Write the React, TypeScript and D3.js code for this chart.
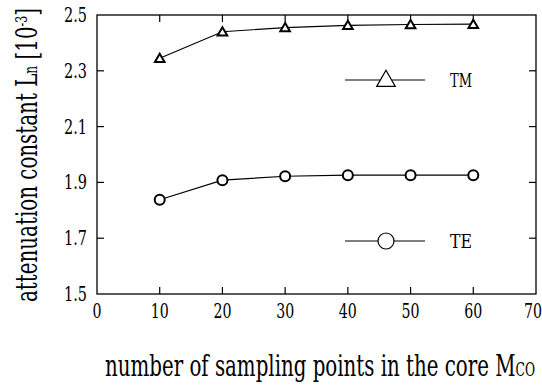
import {useEffect, useRef} from "react";
import * as d3 from "d3";

// sampling points in the core
const samplePoints = [10, 20, 30, 40, 50, 60];
// attenuation constant [10^-3]
const tmValues = [2.345, 2.44, 2.455, 2.463, 2.466, 2.467];
const teValues = [1.838, 1.908, 1.922, 1.926, 1.926, 1.926];
const xTicks = [0, 10, 20, 30, 40, 50, 60, 70];
const yTicks = [1.5, 1.7, 1.9, 2.1, 2.3, 2.5];

const FONT = "'DejaVu Serif Condensed', 'DejaVu Serif', 'Liberation Serif', serif";

const App = () => {
    const ref = useRef<SVGSVGElement>(null);

    useEffect(() => {
        const svg = d3.select(ref.current);
        svg.selectAll("*").remove();

        const left = 97, right = 536, top = 15, bottom = 294;
        const x = d3.scaleLinear().domain([0, 70]).range([left, right]);
        const y = d3.scaleLinear().domain([1.5, 2.5]).range([bottom, top]);

        // frame
        svg.append("rect")
            .attr("x", left).attr("y", top)
            .attr("width", right - left).attr("height", bottom - top)
            .attr("fill", "none").attr("stroke", "#000").attr("stroke-width", 1.3);

        // inward ticks on all four sides
        const tl = 7;
        const g = svg.append("g").attr("stroke", "#000").attr("stroke-width", 1.2);
        xTicks.slice(1, -1).forEach(t => {
            g.append("line").attr("x1", x(t)).attr("x2", x(t)).attr("y1", bottom).attr("y2", bottom - tl);
            g.append("line").attr("x1", x(t)).attr("x2", x(t)).attr("y1", top).attr("y2", top + tl);
        });
        yTicks.slice(1, -1).forEach(t => {
            g.append("line").attr("x1", left).attr("x2", left + tl).attr("y1", y(t)).attr("y2", y(t));
            g.append("line").attr("x1", right).attr("x2", right - tl).attr("y1", y(t)).attr("y2", y(t));
        });

        // tick labels
        xTicks.forEach(t => {
            const s = String(t);
            svg.append("text")
                .attr("x", Math.min(x(t), 533)).attr("y", 318)
                .attr("text-anchor", "middle")
                .attr("font-family", FONT).attr("font-size", 21)
                .attr("textLength", s.length * 9).attr("lengthAdjust", "spacingAndGlyphs")
                .text(s);
        });
        yTicks.forEach(t => {
            svg.append("text")
                .attr("x", 87).attr("y", y(t) + 7)
                .attr("text-anchor", "end")
                .attr("font-family", FONT).attr("font-size", 21)
                .attr("textLength", 23).attr("lengthAdjust", "spacingAndGlyphs")
                .text(d3.format(".1f")(t));
        });

        const line = d3.line<number>()
            .x((d, i) => x(samplePoints[i]))
            .y(d => y(d));

        svg.append("path").datum(tmValues)
            .attr("d", line).attr("fill", "none").attr("stroke", "#000").attr("stroke-width", 1.2);
        svg.append("path").datum(teValues)
            .attr("d", line).attr("fill", "none").attr("stroke", "#000").attr("stroke-width", 1.2);

        const tri = d3.symbol().type(d3.symbolTriangle);
        tmValues.forEach((v, i) => {
            svg.append("path")
                .attr("d", tri.size(40)())
                .attr("transform", `translate(${x(samplePoints[i])},${y(v) + 1})`)
                .attr("fill", "#fff").attr("stroke", "#000").attr("stroke-width", 2);
        });
        teValues.forEach((v, i) => {
            svg.append("circle")
                .attr("cx", x(samplePoints[i])).attr("cy", y(v)).attr("r", 5)
                .attr("fill", "#fff").attr("stroke", "#000").attr("stroke-width", 2);
        });

        // legend
        const legend = [
            {name: "TM", yPos: 80, kind: "tri"},
            {name: "TE", yPos: 241, kind: "circle"},
        ];
        legend.forEach(l => {
            svg.append("line").attr("x1", 345).attr("x2", 425).attr("y1", l.yPos).attr("y2", l.yPos)
                .attr("stroke", "#000").attr("stroke-width", 1.2);
            if (l.kind === "tri") {
                svg.append("path").attr("d", tri.size(150)())
                    .attr("transform", `translate(386,${l.yPos + 1})`)
                    .attr("fill", "#fff").attr("stroke", "#000").attr("stroke-width", 1.2);
            } else {
                svg.append("circle").attr("cx", 386).attr("cy", l.yPos).attr("r", 8)
                    .attr("fill", "#fff").attr("stroke", "#000").attr("stroke-width", 1.2);
            }
            svg.append("text")
                .attr("x", 450).attr("y", l.yPos + 7)
                .attr("font-family", FONT).attr("font-size", 19)
                .attr("textLength", 22).attr("lengthAdjust", "spacingAndGlyphs")
                .text(l.name);
        });

        // axis titles
        const xt = svg.append("text")
            .attr("x", 105).attr("y", 376)
            .attr("font-family", FONT).attr("font-size", 29)
            .attr("textLength", 430).attr("lengthAdjust", "spacingAndGlyphs");
        xt.append("tspan").text("number of sampling points in the core M");
        xt.append("tspan").attr("font-size", 18).text("CO");

        const yt = svg.append("text")
            .attr("transform", "translate(37,302) rotate(-90)")
            .attr("font-family", FONT).attr("font-size", 29)
            .attr("textLength", 294).attr("lengthAdjust", "spacingAndGlyphs");
        yt.append("tspan").text("attenuation constant L");
        yt.append("tspan").attr("font-size", 18).text("n");
        yt.append("tspan").text(" [10");
        yt.append("tspan").attr("font-size", 16).attr("dy", -10).text("-3");
        yt.append("tspan").attr("dy", 10).text("]");
    }, []);

    return (
        <svg ref={ref} width={542} height={385}
             style={{position: "absolute", left: 0, top: 0, background: "#fff"}}/>
    );
};

export default App;
